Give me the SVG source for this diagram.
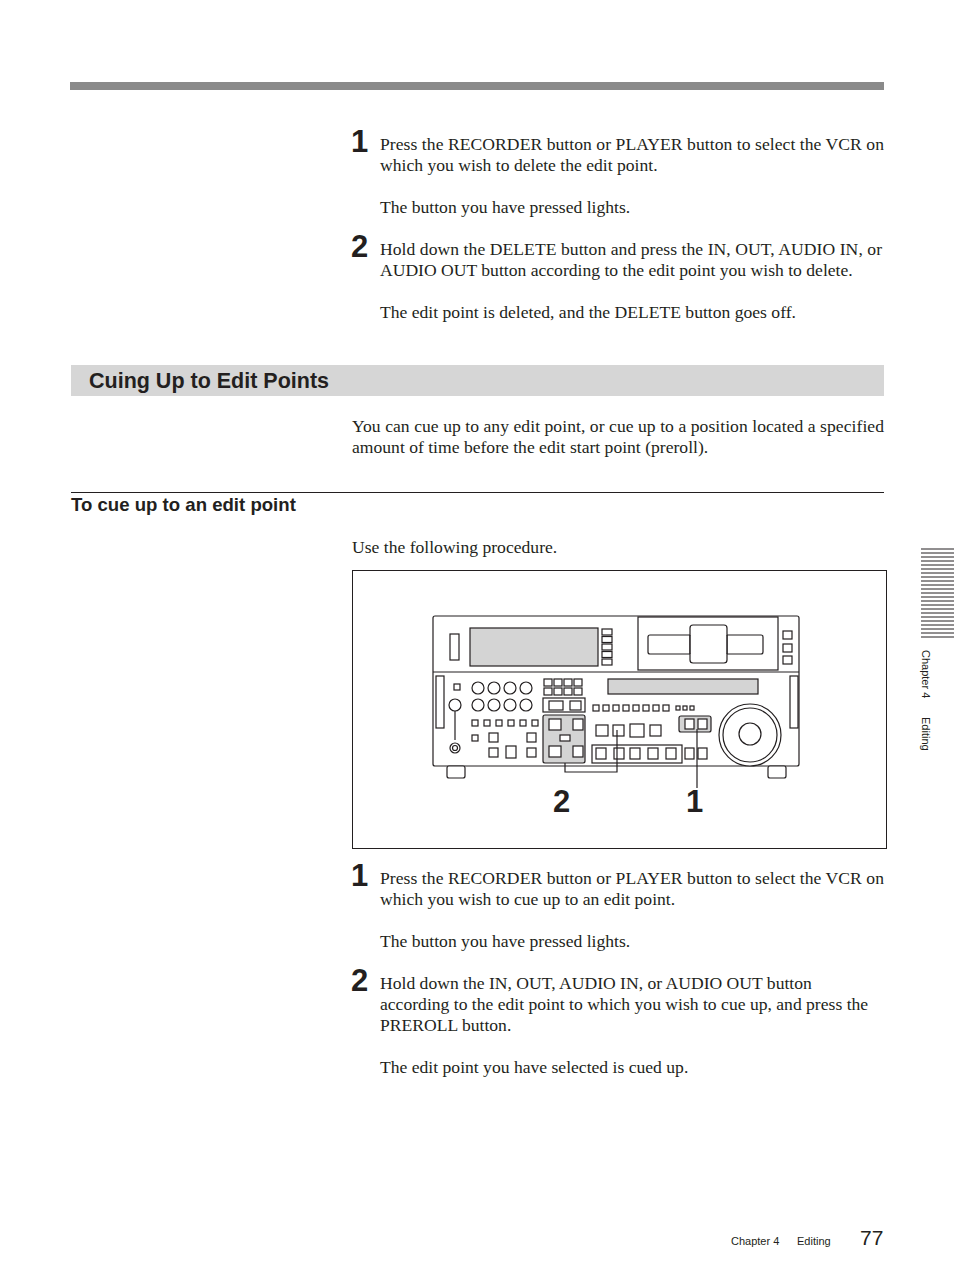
<svg xmlns="http://www.w3.org/2000/svg" width="954" height="1274" viewBox="0 0 954 1274">
<style>
.b{font-family:"Liberation Serif",serif;font-size:17.6px;fill:#231f20}
.n{font-family:"Liberation Sans",Arial,sans-serif;font-weight:bold;font-size:31px;fill:#231f20}
.h{font-family:"Liberation Sans",Arial,sans-serif;font-weight:bold;fill:#231f20}
.s{font-family:"Liberation Sans",Arial,sans-serif;font-size:11px;fill:#231f20}
.l{fill:none;stroke:#231f20;stroke-width:1.2}
.g{fill:#d4d4d4;stroke:#231f20;stroke-width:1.2}
.w{fill:#fff;stroke:#231f20;stroke-width:1.2}
</style>
<rect width="954" height="1274" fill="#fff"/>
<rect x="70" y="82" width="814" height="8" fill="#8a8a8a"/>
<text class="n" x="351" y="152">1</text>
<text class="b" x="380" y="150" textLength="504">Press the RECORDER button or PLAYER button to select the VCR on</text>
<text class="b" x="380" y="171">which you wish to delete the edit point.</text>
<text class="b" x="380" y="213">The button you have pressed lights.</text>
<text class="n" x="351" y="257">2</text>
<text class="b" x="380" y="255" textLength="502">Hold down the DELETE button and press the IN, OUT, AUDIO IN, or</text>
<text class="b" x="380" y="276">AUDIO OUT button according to the edit point you wish to delete.</text>
<text class="b" x="380" y="318">The edit point is deleted, and the DELETE button goes off.</text>
<rect x="71" y="365" width="813" height="31" fill="#d6d6d6"/>
<text class="h" x="89" y="388" font-size="21.5">Cuing Up to Edit Points</text>
<text class="b" x="352" y="432" textLength="532">You can cue up to any edit point, or cue up to a position located a specified</text>
<text class="b" x="352" y="453">amount of time before the edit start point (preroll).</text>
<line x1="71" y1="492.5" x2="884" y2="492.5" stroke="#231f20" stroke-width="1"/>
<text class="h" x="71" y="511" font-size="18.6">To cue up to an edit point</text>
<text class="b" x="352" y="553">Use the following procedure.</text>
<rect x="352.5" y="570.5" width="534" height="278" fill="none" stroke="#231f20" stroke-width="1"/>
<g id="device">
<rect class="w" x="433" y="616" width="366" height="150" rx="2"/>
<line class="l" x1="433" y1="672" x2="799" y2="672"/>
<rect class="w" x="450" y="634" width="9" height="26"/>
<rect class="g" x="470" y="628" width="128" height="38"/>
<g class="w"><rect x="602" y="629" width="10" height="6"/><rect x="602" y="636.5" width="10" height="6"/><rect x="602" y="644" width="10" height="6"/><rect x="602" y="651.5" width="10" height="6"/><rect x="602" y="659" width="10" height="6"/></g>
<rect class="w" x="638" y="617" width="140" height="53"/>
<rect class="w" x="648" y="635" width="115" height="19" rx="2"/>
<rect class="w" x="690" y="625" width="37" height="38" rx="3"/>
<rect x="690.6" y="635.6" width="35.8" height="17.8" fill="#fff"/>
<line class="l" x1="690" y1="635" x2="690" y2="654"/><line class="l" x1="727" y1="635" x2="727" y2="654"/>
<g class="w"><rect x="783" y="631" width="9" height="8"/><rect x="783" y="644" width="9" height="8"/><rect x="783" y="656" width="9" height="8"/></g>
<rect class="w" x="436" y="676" width="8" height="52"/><rect class="w" x="790" y="676" width="8" height="52"/>
<rect class="g" x="608" y="679" width="150" height="15"/>
<rect class="w" x="454" y="684" width="6" height="6"/>
<g class="w"><circle cx="478" cy="688" r="6"/><circle cx="494" cy="688" r="6"/><circle cx="510" cy="688" r="6"/><circle cx="526" cy="688" r="6"/><circle cx="455" cy="705" r="6"/><circle cx="478" cy="705" r="6"/><circle cx="494" cy="705" r="6"/><circle cx="510" cy="705" r="6"/><circle cx="526" cy="705" r="6"/></g>
<line class="l" x1="455" y1="711" x2="455" y2="740"/>
<circle class="w" cx="455" cy="748" r="5"/><circle class="w" cx="455" cy="748" r="2.5"/>
<g class="w"><rect x="544" y="679" width="8" height="7"/><rect x="554" y="679" width="8" height="7"/><rect x="564" y="679" width="8" height="7"/><rect x="574" y="679" width="8" height="7"/><rect x="544" y="688" width="8" height="7"/><rect x="554" y="688" width="8" height="7"/><rect x="564" y="688" width="8" height="7"/><rect x="574" y="688" width="8" height="7"/></g>
<rect class="w" x="543" y="698" width="42" height="14"/>
<rect class="w" x="549" y="701" width="14" height="9"/><rect class="w" x="570" y="701" width="11" height="9"/>
<g class="w"><rect x="593" y="705" width="6" height="6"/><rect x="603" y="705" width="6" height="6"/><rect x="613" y="705" width="6" height="6"/><rect x="623" y="705" width="6" height="6"/><rect x="633" y="705" width="6" height="6"/><rect x="643" y="705" width="6" height="6"/><rect x="653" y="705" width="6" height="6"/><rect x="663" y="705" width="6" height="6"/><rect x="676" y="706" width="4" height="4"/><rect x="683" y="706" width="4" height="4"/><rect x="690" y="706" width="4" height="4"/></g>
<g class="w"><rect x="472" y="720" width="6" height="6"/><rect x="484" y="720" width="6" height="6"/><rect x="496" y="720" width="6" height="6"/><rect x="508" y="720" width="6" height="6"/><rect x="520" y="720" width="6" height="6"/><rect x="532" y="720" width="6" height="6"/><rect x="472" y="735" width="6" height="6"/><rect x="489" y="733" width="9" height="9"/><rect x="527" y="733" width="9" height="9"/><rect x="489" y="748" width="9" height="9"/><rect x="506" y="746" width="10" height="12"/><rect x="527" y="748" width="9" height="9"/></g>
<rect class="g" x="543" y="715" width="42" height="48" rx="2"/>
<g class="w"><rect x="549" y="719" width="12" height="11"/><rect x="573" y="719" width="10" height="11"/><rect x="560" y="735" width="10" height="6"/><rect x="549" y="746" width="12" height="11"/><rect x="573" y="746" width="10" height="11"/></g>
<g class="w"><rect x="596" y="725" width="12" height="11"/><rect x="613" y="725" width="11" height="11"/><rect x="630" y="724" width="14" height="13"/><rect x="650" y="725" width="11" height="11"/><rect x="592" y="745" width="90" height="18"/><rect x="596" y="748" width="10" height="11"/><rect x="614" y="748" width="10" height="11"/><rect x="630" y="748" width="10" height="11"/><rect x="648" y="748" width="10" height="11"/><rect x="666" y="748" width="10" height="11"/><rect x="685" y="748" width="9" height="11"/><rect x="698" y="748" width="9" height="11"/></g>
<rect class="g" x="679" y="716" width="32" height="16" rx="2"/>
<rect class="w" x="685" y="719" width="9" height="10"/><rect class="w" x="698" y="719" width="9" height="10"/>
<circle class="w" cx="750" cy="735" r="31"/><circle class="w" cx="750" cy="735" r="27"/><circle class="w" cx="750" cy="734" r="11"/>
<rect class="w" x="447" y="766" width="18" height="12" rx="2"/><rect class="w" x="768" y="766" width="18" height="12" rx="2"/>
</g>
<g id="connectors" class="l">
<polyline points="565,763 565,772 617,772 617,730"/>
<line x1="697" y1="729" x2="697" y2="788"/>
</g>
<text class="n" x="553" y="812" font-size="34">2</text>
<text class="n" x="686" y="812" font-size="34">1</text>
<text class="n" x="351" y="886">1</text>
<text class="b" x="380" y="884" textLength="504">Press the RECORDER button or PLAYER button to select the VCR on</text>
<text class="b" x="380" y="905">which you wish to cue up to an edit point.</text>
<text class="b" x="380" y="947">The button you have pressed lights.</text>
<text class="n" x="351" y="991">2</text>
<text class="b" x="380" y="989">Hold down the IN, OUT, AUDIO IN, or AUDIO OUT button</text>
<text class="b" x="380" y="1010">according to the edit point to which you wish to cue up, and press the</text>
<text class="b" x="380" y="1031">PREROLL button.</text>
<text class="b" x="380" y="1073">The edit point you have selected is cued up.</text>
<g id="thumb" stroke="#231f20" stroke-width="1">
<path d="M921,549h34M921,553h34M921,557h34M921,561h34M921,565h34M921,569h34M921,573h34M921,577h34M921,581h34M921,585h34M921,589h34M921,593h34M921,597h34M921,601h34M921,605h34M921,609h34M921,613h34M921,617h34M921,621h34M921,625h34M921,629h34M921,633h34M921,637h34"/>
</g>
<text class="s" transform="translate(922,650) rotate(90)">Chapter 4</text>
<text class="s" transform="translate(922,717) rotate(90)">Editing</text>
<text class="s" x="731" y="1245">Chapter 4</text>
<text class="s" x="797" y="1245">Editing</text>
<text x="860" y="1245" font-family="Liberation Sans,Arial,sans-serif" font-size="21" fill="#231f20">77</text>
</svg>
